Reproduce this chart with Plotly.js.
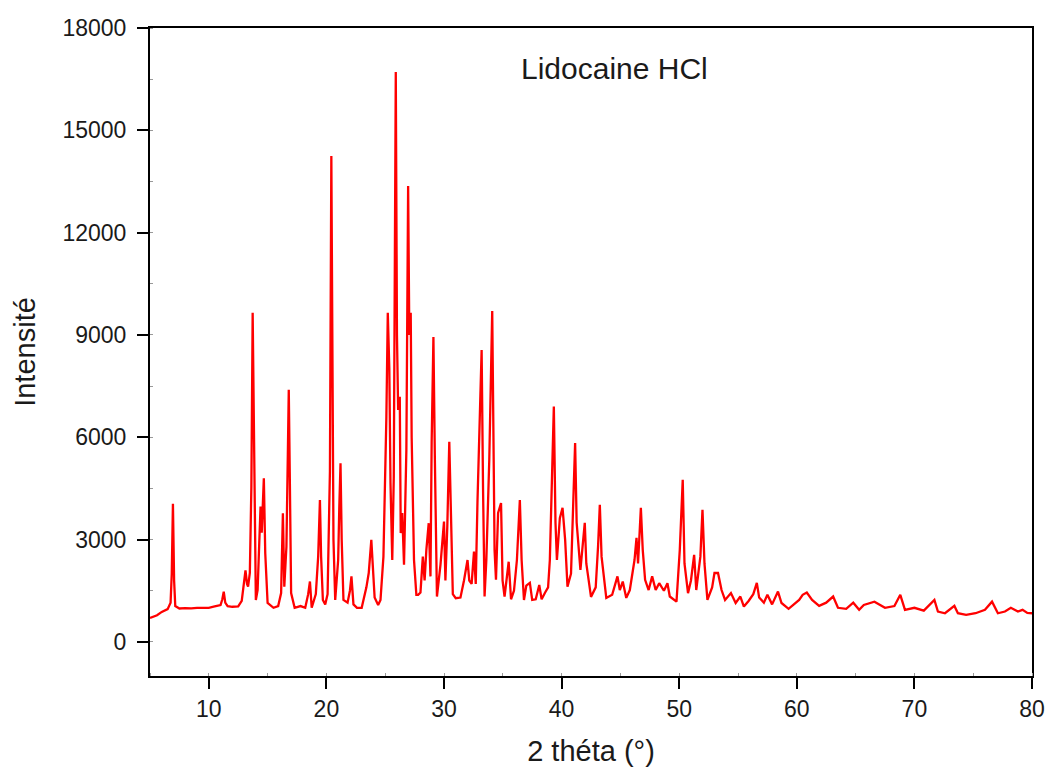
<!DOCTYPE html>
<html>
<head>
<meta charset="utf-8">
<script src="https://cdn.plot.ly/plotly-3.0.1.min.js"></script>
<style>html,body{margin:0;padding:0;background:#fff;}#chart{width:1049px;height:769px;}</style>
</head>
<body>
<div id="chart"></div>
<script>
// 2θ (degrees)
const twoTheta = [
  5.0, 5.3, 5.6, 6.0, 6.5, 6.75, 6.85, 6.95, 7.05, 7.15, 7.5, 8.0, 8.5, 9.0, 9.5, 10.0, 10.5, 11.0, 11.15, 11.27, 11.4, 11.6, 12.0, 12.5,
  12.8, 13.0, 13.12, 13.25, 13.34, 13.49, 13.62, 13.73, 13.82, 13.9, 14.0, 14.15, 14.4, 14.5, 14.68, 14.8, 15.0, 15.5, 15.9, 16.15,
  16.3, 16.42, 16.6, 16.72, 16.8, 16.9, 17.0, 17.3, 17.8, 18.2, 18.45, 18.6, 18.75, 19.1, 19.3, 19.45, 19.55, 19.7, 19.9, 20.1,
  20.3, 20.42, 20.5, 20.6, 20.75, 20.9, 21.0, 21.1, 21.2, 21.3, 21.45, 21.8, 22.0, 22.13, 22.3, 22.6, 23.0, 23.4, 23.6, 23.82,
  23.95, 24.1, 24.4, 24.6, 24.85, 24.97, 25.1, 25.22, 25.35, 25.45, 25.6, 25.73, 25.82, 25.9, 26.0, 26.1, 26.24, 26.32, 26.45, 26.6,
  26.8, 26.95, 27.05, 27.17, 27.25, 27.35, 27.45, 27.65, 27.8, 28.0, 28.2, 28.35, 28.5, 28.7, 28.85, 28.95, 29.1, 29.22, 29.4, 29.7,
  30.0, 30.12, 30.28, 30.45, 30.58, 30.75, 31.0, 31.4, 31.7, 32.0, 32.15, 32.35, 32.55, 32.7, 32.85, 33.0, 33.2, 33.32, 33.45, 33.6,
  33.85, 34.1, 34.2, 34.3, 34.42, 34.6, 34.85, 34.98, 35.15, 35.5, 35.7, 35.95, 36.2, 36.45, 36.6, 36.8, 37.0, 37.3, 37.5, 37.8,
  38.1, 38.3, 38.6, 38.85, 39.0, 39.15, 39.34, 39.48, 39.6, 39.85, 40.08, 40.3, 40.5, 40.8, 41.0, 41.15, 41.28, 41.4, 41.6, 41.97,
  42.1, 42.5, 42.9, 43.1, 43.25, 43.4, 43.6, 43.8, 44.3, 44.75, 44.95, 45.2, 45.5, 45.8, 46.2, 46.37, 46.5, 46.74, 46.9, 47.1,
  47.4, 47.7, 48.0, 48.3, 48.7, 49.0, 49.2, 49.77, 50.05, 50.3, 50.45, 50.75, 51.0, 51.27, 51.45, 51.8, 51.98, 52.15, 52.4, 52.8,
  53.0, 53.3, 53.6, 53.9, 54.4, 54.8, 55.2, 55.5, 55.9, 56.3, 56.6, 56.8, 57.2, 57.5, 57.9, 58.4, 58.7, 59.3, 59.7, 60.2,
  60.5, 60.85, 61.3, 61.9, 62.5, 63.09, 63.5, 64.2, 64.8, 65.3, 65.7, 66.6, 67.5, 68.3, 68.8, 69.2, 70.0, 70.8, 71.7, 72.0,
  72.6, 73.4, 73.7, 74.4, 75.2, 76.0, 76.6, 77.1, 77.7, 78.2, 78.8, 79.2, 79.6, 80.0
];
// Intensity (counts)
const intensity = [
  700, 740, 780, 880, 960, 1150, 2000, 4050, 1800, 1050, 980, 990, 980, 1000, 1010, 1000, 1040, 1080, 1250, 1470, 1150, 1050, 1030, 1040,
  1200, 1800, 2100, 1700, 1620, 2020, 4550, 9650, 6900, 3000, 1230, 1520, 3970, 3200, 4800, 2600, 1140, 1000, 1050, 1430,
  3770, 1620, 2790, 5500, 7390, 4500, 1430, 1000, 1050, 1000, 1400, 1770, 1000, 1400, 2500, 4160, 2500, 1230, 1100, 1400,
  5000, 14250, 9000, 3000, 1230, 2020, 2400, 4000, 5240, 3000, 1230, 1150, 1500, 1920, 1100, 1000, 1000, 1600, 2020, 2990,
  2000, 1300, 1085, 1230, 2500, 4075, 6600, 9650, 8000, 4660, 2400, 4850, 12800, 16710, 9000, 6800, 7190, 3190, 3780, 2260,
  5630, 13370, 9000, 9650, 6000, 4460, 2400, 1380, 1380, 1450, 2500, 1800, 2700, 3480, 1920, 5830, 8940, 5440, 1330, 2260,
  3530, 1800, 3380, 5870, 3870, 1400, 1280, 1300, 1800, 2400, 1800, 1700, 2650, 1700, 4160, 6300, 8560, 4500, 1330, 2400,
  5340, 9700, 5000, 2690, 1820, 3780, 4070, 1800, 1330, 2350, 1250, 1500, 2400, 4160, 2400, 1230, 1650, 1730, 1230, 1250,
  1670, 1250, 1450, 1600, 2400, 4500, 6900, 3500, 2400, 3630, 3930, 3000, 1620, 2000, 4000, 5830, 3500, 2900, 2110, 3490,
  2300, 1320, 1600, 2800, 4020, 2500, 1900, 1290, 1380, 1920, 1520, 1770, 1290, 1520, 2400, 3050, 2300, 3930, 2700, 1820,
  1520, 1920, 1520, 1720, 1500, 1720, 1330, 1180, 2700, 4750, 2300, 1430, 1800, 2550, 1520, 2500, 3870, 2300, 1230, 1600,
  2020, 2020, 1520, 1230, 1430, 1140, 1330, 1035, 1200, 1400, 1730, 1300, 1150, 1380, 1100, 1475, 1140, 970, 1085, 1230,
  1380, 1445, 1230, 1055, 1150, 1330, 1000, 970, 1150, 940, 1085, 1180, 1000, 1050, 1380, 940, 1000, 918, 1230, 890,
  840, 1055, 840, 790, 840, 940, 1180, 840, 890, 1000, 890, 940, 850, 840
];
const xTickVals = [10, 20, 30, 40, 50, 60, 70, 80];
const yTickVals = [0, 3000, 6000, 9000, 12000, 15000, 18000];
const sampleName = 'Lidocaine HCl';
const xTitle = '2 théta (°)';
const yTitle = 'Intensité';

const FONT = 'Liberation Sans, Arial, Helvetica, sans-serif';

const trace = {
  x: twoTheta,
  y: intensity,
  type: 'scatter',
  mode: 'lines',
  line: {color: '#ff0000', width: 2.3},
  hoverinfo: 'x+y'
};

const layout = {
  width: 1049,
  height: 769,
  margin: {l: 150, r: 17, t: 28, b: 93},
  paper_bgcolor: '#ffffff',
  plot_bgcolor: '#ffffff',
  showlegend: false,
  font: {family: FONT, color: '#1a1a1a'},
  xaxis: {
    range: [5, 80],
    tickmode: 'array',
    tickvals: xTickVals,
    ticks: 'outside',
    ticklen: 11,
    tickwidth: 2,
    tickcolor: '#000',
    tickfont: {family: FONT, size: 23, color: '#1a1a1a'},
    showline: true,
    linecolor: '#000',
    linewidth: 2,
    mirror: true,
    showgrid: false,
    zeroline: false,
    minor: {ticks: 'inside', ticklen: 3, tickwidth: 1, tickcolor: '#999', dtick: 5, tick0: 5},
    title: {text: xTitle, font: {family: FONT, size: 29, color: '#1a1a1a'}, standoff: 20}
  },
  yaxis: {
    range: [-1000, 18000],
    tickmode: 'array',
    tickvals: yTickVals,
    ticktext: yTickVals.map(String),
    ticks: 'outside',
    ticklen: 11,
    tickwidth: 2,
    tickcolor: '#000',
    tickfont: {family: FONT, size: 23, color: '#1a1a1a'},
    ticklabelstandoff: 6,
    showline: true,
    linecolor: '#000',
    linewidth: 2,
    mirror: true,
    showgrid: false,
    zeroline: false,
    minor: {ticks: 'inside', ticklen: 3, tickwidth: 1, tickcolor: '#999', dtick: 1500, tick0: 0},
    title: {text: yTitle, font: {family: FONT, size: 29, color: '#1a1a1a'}, standoff: 18}
  },
  annotations: [{
    x: 44.5, y: 16800, xref: 'x', yref: 'y',
    text: sampleName, showarrow: false,
    font: {family: FONT, size: 30, color: '#1a1a1a'},
    xanchor: 'center', yanchor: 'middle'
  }]
};

Plotly.newPlot('chart', [trace], layout, {staticPlot: true, displayModeBar: false});
</script>
</body>
</html>
